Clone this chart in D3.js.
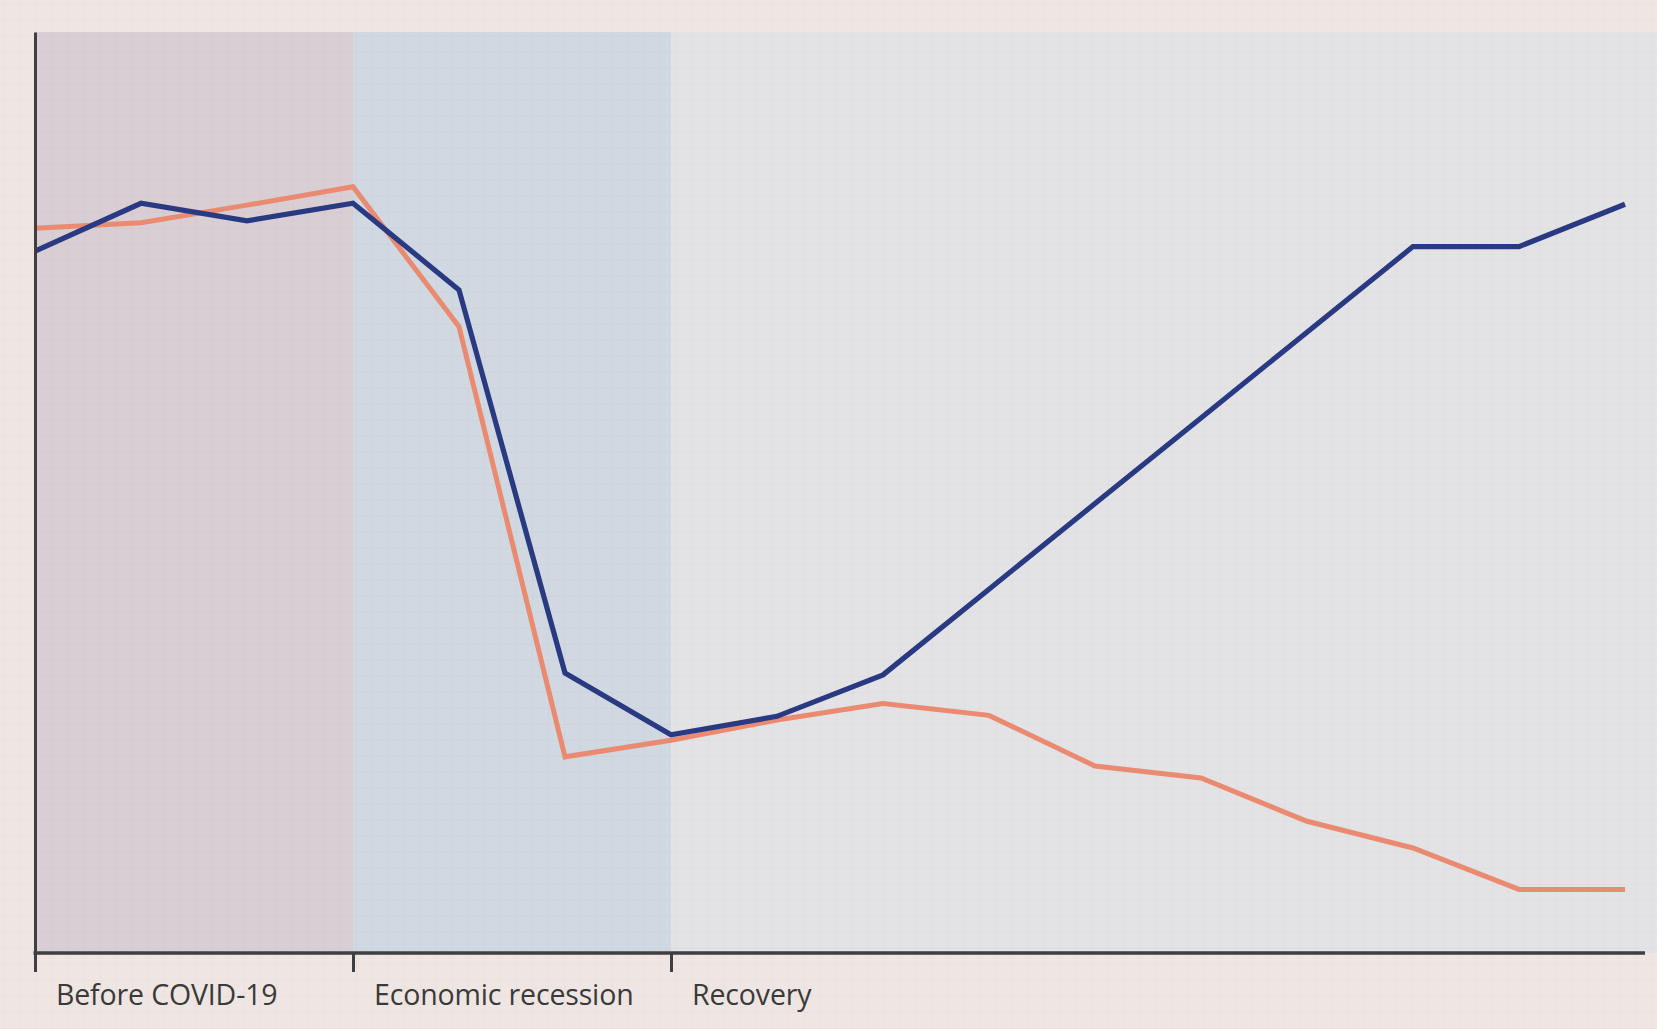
<!DOCTYPE html>
<html>
<head>
<meta charset="utf-8">
<script src="https://cdn.jsdelivr.net/npm/d3@7"></script>
<style>
  html, body { margin: 0; padding: 0; background: #efe6e3; }
  svg { display: block; }
</style>
</head>
<body>
<svg id="chart" width="1657" height="1029"></svg>
<script>
// Time steps along the horizontal axis (evenly spaced periods)
const steps = [0, 1, 2, 3, 4, 5, 6, 7, 8, 9, 10, 11, 12, 13, 14, 15];

// Phase labels and the step at which each phase begins
const phaseLabels = ["Before COVID-19", "Economic recession", "Recovery"];
const phaseStarts = [0, 3, 6];

// Index values (0 = baseline, 100 = top of the frame)
const navySeries  = [76.2, 81.4, 79.5, 81.4, 72.0, 30.4, 23.7, 25.7, 30.2, 39.5, 48.8, 58.1, 67.4, 76.7, 76.7, 81.3];
const coralSeries = [78.7, 79.3, 81.2, 83.2, 68.0, 21.3, 23.1, 25.3, 27.1, 25.8, 20.3, 19.0, 14.3, 11.4, 6.9, 6.9];

const W = 1657, H = 1029;
const margin = { left: 35, top: 32, right: 32, bottom: 76 };

const svg = d3.select("#chart");

// graph-paper texture over the whole page
const defs = svg.append("defs");
const pat = defs.append("pattern")
  .attr("id", "grid")
  .attr("width", 16).attr("height", 16)
  .attr("patternUnits", "userSpaceOnUse")
  .attr("x", 4).attr("y", 4);
pat.append("path")
  .attr("d", "M16 0 L0 0 L0 16")
  .attr("fill", "none")
  .attr("stroke", "rgba(110,90,90,0.07)")
  .attr("stroke-width", 1.2);

svg.append("rect").attr("width", W).attr("height", H).attr("fill", "#efe6e3");

const x = d3.scaleLinear()
  .domain([steps[0], steps[steps.length - 1]])
  .range([margin.left, 1625]);
const y = d3.scaleLinear()
  .domain([0, 100])
  .range([H - margin.bottom, margin.top]);

// shaded phase bands
const phaseFill = ["#d8ced3", "#d0d8e1", "#e3e3e5"];
const bands = phaseLabels.map((label, i) => ({
  label,
  x0: x(phaseStarts[i]),
  x1: i < phaseStarts.length - 1 ? x(phaseStarts[i + 1]) : W,
  fill: phaseFill[i]
}));
svg.append("g").selectAll("rect")
  .data(bands)
  .join("rect")
  .attr("x", d => d.x0)
  .attr("width", d => d.x1 - d.x0)
  .attr("y", y(100))
  .attr("height", y(0) - y(100))
  .attr("fill", d => d.fill);

svg.append("rect").attr("width", W).attr("height", H).attr("fill", "url(#grid)");

// lines
const line = d3.line()
  .x((d, i) => x(steps[i]))
  .y(d => y(d));

svg.append("path")
  .datum(coralSeries)
  .attr("d", line)
  .attr("fill", "none")
  .attr("stroke", "#e98a71")
  .attr("stroke-width", 5)
  .attr("stroke-linejoin", "miter");

svg.append("path")
  .datum(navySeries)
  .attr("d", line)
  .attr("fill", "none")
  .attr("stroke", "#2a3a82")
  .attr("stroke-width", 5.2)
  .attr("stroke-linejoin", "miter");

// axes
const axisColor = "#3f3f3f";

const yAxis = svg.append("g")
  .attr("transform", `translate(${x(0)},0)`)
  .call(d3.axisLeft(y).tickValues([]).tickSizeOuter(0));
yAxis.select(".domain").attr("stroke", axisColor).attr("stroke-width", 3);

const xAxis = svg.append("g")
  .attr("transform", `translate(0,${y(0)})`)
  .call(d3.axisBottom(x).tickValues(phaseStarts).tickSize(19).tickFormat("").tickSizeOuter(0));
xAxis.select(".domain").remove();
xAxis.selectAll(".tick line").attr("stroke", axisColor).attr("stroke-width", 3);
xAxis.append("line")
  .attr("x1", x(0) - 1.5)
  .attr("x2", W - 12)
  .attr("stroke", axisColor)
  .attr("stroke-width", 3.5);

// phase labels
svg.append("g")
  .selectAll("text")
  .data(bands)
  .join("text")
  .attr("x", d => d.x0 + 21)
  .attr("y", y(0) + 52)
  .attr("font-family", "'Open Sans', 'Noto Sans', sans-serif")
  .attr("font-size", 28.5)
  .attr("letter-spacing", -0.15)
  .attr("fill", "#3a3a3a")
  .text(d => d.label);
</script>
</body>
</html>
